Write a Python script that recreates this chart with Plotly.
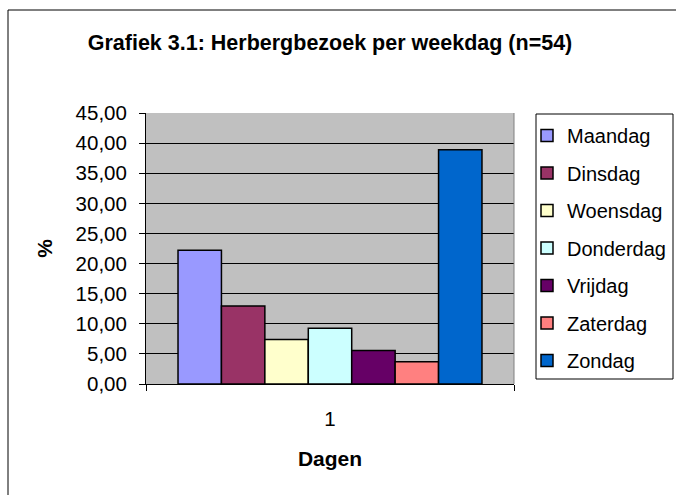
import plotly.graph_objects as go

categories = ["1"]
days = ["Maandag", "Dinsdag", "Woensdag", "Donderdag", "Vrijdag", "Zaterdag", "Zondag"]
values = [22.22, 12.96, 7.41, 9.26, 5.56, 3.70, 38.89]
colors = ["#9999FF", "#993366", "#FFFFCC", "#CCFFFF", "#660066", "#FF8080", "#0066CC"]
y_ticks = [0, 5, 10, 15, 20, 25, 30, 35, 40, 45]

FONT = "Liberation Sans, Arial, sans-serif"

fig = go.Figure()
for d, v, c in zip(days, values, colors):
    fig.add_trace(go.Bar(
        x=categories, y=[v], name=d, legendgroup=d,
        marker=dict(color=c, line=dict(color="black", width=1.5)),
    ))

W, H = 676, 495
L, R, T, B = 146, 162, 113, 111
PW, PH = W - L - R, H - T - B


def px_x(x):
    return (x - L) / PW


def px_y(y):
    return (H - B - y) / PH


fig.update_layout(
    width=W, height=H,
    margin=dict(l=L, r=R, t=T, b=B),
    paper_bgcolor="white",
    plot_bgcolor="#C0C0C0",
    separators=",.",
    barmode="group",
    bargap=0.174,
    bargroupgap=0,
    font=dict(family=FONT, size=20, color="black"),
    title=dict(
        text="<b>Grafiek 3.1: Herbergbezoek per weekdag (n=54)</b>",
        x=0.5, xref="paper", xanchor="center",
        y=1 - 42 / H, yref="container", yanchor="middle",
        font=dict(family=FONT, size=21.5, color="black"),
    ),
    showlegend=True,
    legend=dict(
        xref="container", yref="container",
        x=527 / W, xanchor="left",
        y=1 - 116 / H, yanchor="top",
        maxheight=420,
        borderwidth=0, bgcolor="rgba(0,0,0,0)",
        font=dict(family=FONT, size=20, color="black"),
        traceorder="grouped", tracegroupgap=8.5,
        itemclick=False,
    ),
    xaxis=dict(
        type="category",
        tickson="boundaries",
        ticks="outside", ticklen=6, tickcolor="black", tickwidth=1,
        showline=True, linecolor="black", linewidth=1,
        showgrid=False,
        ticklabelstandoff=16,
        tickfont=dict(family=FONT, size=20.5, color="black"),
        title=dict(text="<b>Dagen</b>", standoff=22,
                   font=dict(family=FONT, size=21, color="black")),
    ),
    yaxis=dict(
        range=[0, 45],
        tickvals=y_ticks,
        tickformat=".2f",
        ticks="outside", ticklen=6, tickcolor="black", tickwidth=1,
        showline=True, linecolor="black", linewidth=1,
        showgrid=True, gridcolor="black", gridwidth=1,
        zeroline=False,
        ticklabelstandoff=8,
        tickfont=dict(family=FONT, size=20.5, color="black"),
        title=dict(text="<b>%</b>", standoff=17,
                   font=dict(family=FONT, size=21, color="black")),
    ),
)

# plot area right border
fig.add_shape(type="line", xref="paper", yref="paper", x0=1, x1=1, y0=0, y1=1,
              line=dict(color="#808080", width=1))
# legend box
fig.add_shape(type="rect", xref="paper", yref="paper",
              x0=px_x(536), x1=px_x(673), y0=px_y(379), y1=px_y(114),
              line=dict(color="black", width=1), fillcolor="white", layer="below")
# outer chart frame (top and left edges visible)
fig.add_shape(type="line", xref="paper", yref="paper",
              x0=px_x(8), x1=px_x(W + 5), y0=px_y(10), y1=px_y(10),
              line=dict(color="black", width=1))
fig.add_shape(type="line", xref="paper", yref="paper",
              x0=px_x(8), x1=px_x(8), y0=px_y(10), y1=px_y(H + 5),
              line=dict(color="black", width=1))

fig.write_html("out.html", config={"displayModeBar": False},
               post_script="document.body.style.margin='0';")
